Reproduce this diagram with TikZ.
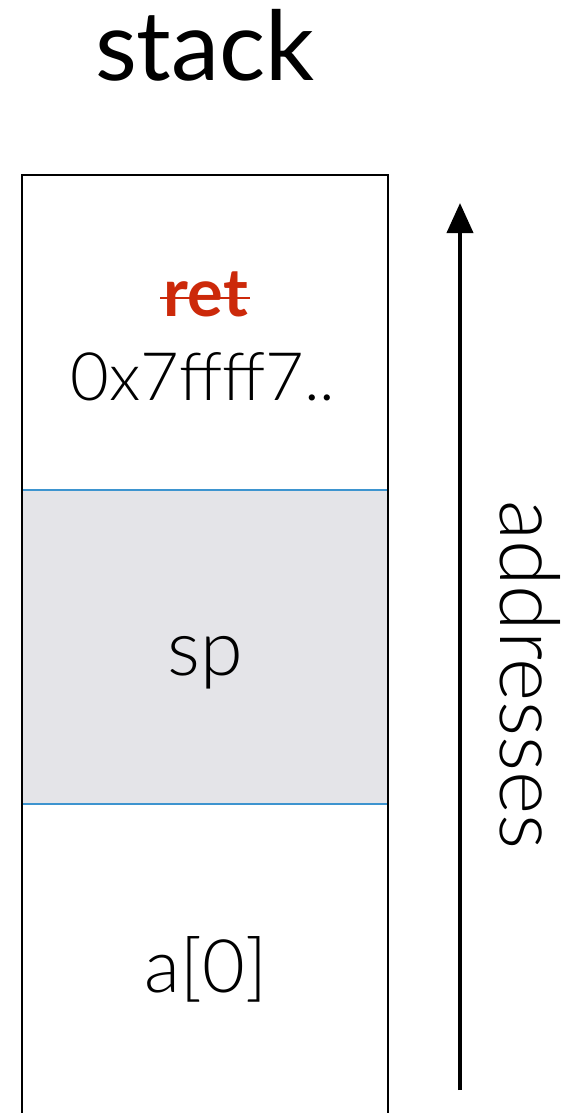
\documentclass[tikz,border=0pt]{standalone}
\usepackage{fontspec}
\setmainfont{Lato}
\newfontfamily\thinfont{Lato Light}
\usetikzlibrary{arrows.meta}
\definecolor{cellline}{RGB}{61,148,207}
\definecolor{cellgrey}{RGB}{228,228,232}
\definecolor{retred}{RGB}{204,41,10}
\tikzset{
  celltext/.style={font=\thinfont\fontsize{#1}{#1}\selectfont, inner sep=0pt},
  celltext/.default=36,
}
\begin{document}
\begin{tikzpicture}[x=0.02cm, y=-0.02cm]
    \useasboundingbox (0,0) rectangle (561,1113);

    % stack frame
    \fill[cellgrey] (22,490) rectangle (388,804);
    \draw[cellline, line width=1.1pt] (22,490) -- (388,490);
    \draw[cellline, line width=1.1pt] (22,804) -- (388,804);
    \draw[line width=1.2pt] (22,1113) -- (22,175) -- (388,175) -- (388,1113);

    \node[font=\fontsize{55}{60}\selectfont, anchor=base] (title) at (205,80) {stack};

    \node[font=\bfseries\fontsize{38}{40}\selectfont, text=retred, anchor=base, inner sep=0pt] (ret) at (206,316) {ret};
    \draw[retred, line width=1.3pt] ([xshift=-2pt]ret.west |- 0,298) -- ([xshift=1pt]ret.east |- 0,298);
    \node[celltext=38, anchor=base] (addr) at (203,400) {0x7ffff7..};
    \node[celltext=44, anchor=base] (sp) at (205,675) {sp};
    \node[celltext=42, anchor=base] (a0) at (206,992) {a[0]};

    % address direction
    \coordinate (low) at (460,1090);
    \coordinate (high) at (460,203);
    \draw[line width=2.3pt, -{Triangle[length=30*0.02cm, width=26*0.02cm]}] (low) -- (high);
    \node[celltext=47, rotate=-90] (dir) at (530,675) {addresses};
\end{tikzpicture}
\end{document}
